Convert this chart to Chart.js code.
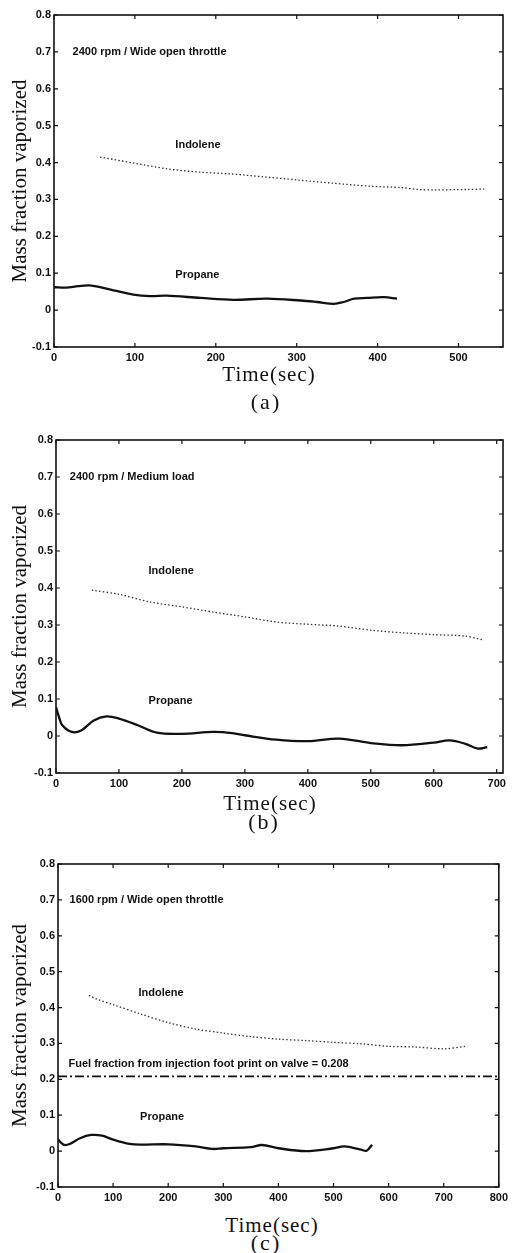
<!DOCTYPE html>
<html>
<head>
<meta charset="utf-8">
<script src="https://cdn.jsdelivr.net/npm/chart.js@4/dist/chart.umd.min.js"></script>
<style>
  html, body { margin:0; padding:0; background:#fff; }
  body { width:512px; height:1253px; position:relative; overflow:hidden; }
  .wrap { position:absolute; left:0; width:512px; }
  .lbl { position:absolute; font-family:"Liberation Serif", serif; font-size:21px; color:#111; transform:translate(-50%,-50%); white-space:nowrap; letter-spacing:1px; }
  .sub { letter-spacing:2px; font-size:22px; }
</style>
</head>
<body>
<div class="wrap" id="wa" style="top:0px;height:369px;"><canvas id="ca"></canvas></div>
<div class="wrap" id="wb" style="top:420px;height:375px;"><canvas id="cb"></canvas></div>
<div class="wrap" id="wc" style="top:840px;height:369px;"><canvas id="cc"></canvas></div>
<div class="lbl" style="left:269px;top:374px;">Time(sec)</div>
<div class="lbl sub" style="left:266px;top:402px;">(a)</div>
<div class="lbl" style="left:270px;top:803px;">Time(sec)</div>
<div class="lbl sub" style="left:264px;top:822px;">(b)</div>
<div class="lbl" style="left:272px;top:1225px;">Time(sec)</div>
<div class="lbl sub" style="left:266px;top:1243px;">(c)</div>
<script>
// ---------- data ----------
const yTicks = [-0.1, 0, 0.1, 0.2, 0.3, 0.4, 0.5, 0.6, 0.7, 0.8];
const xTicksA = [0, 100, 200, 300, 400, 500];
const xTicksB = [0, 100, 200, 300, 400, 500, 600, 700];
const xTicksC = [0, 100, 200, 300, 400, 500, 600, 700, 800];

// (a) 2400 rpm / Wide open throttle
const aIndoleneT = [57, 100, 140, 180, 220, 260, 300, 345, 390, 430, 450, 470, 510, 532];
const aIndoleneY = [0.415, 0.398, 0.383, 0.374, 0.369, 0.361, 0.353, 0.344, 0.336, 0.332, 0.327, 0.326, 0.327, 0.328];
const aPropaneT = [0, 15, 30, 44, 57, 77, 98, 119, 139, 181, 222, 263, 305, 325, 346, 358, 371, 387, 408, 424];
const aPropaneY = [0.062, 0.061, 0.065, 0.067, 0.062, 0.052, 0.042, 0.038, 0.039, 0.033, 0.028, 0.031, 0.026, 0.022, 0.017, 0.022, 0.031, 0.033, 0.035, 0.031];

// (b) 2400 rpm / Medium load
const bIndoleneT = [57, 100, 150, 200, 250, 300, 350, 400, 450, 500, 550, 600, 650, 680];
const bIndoleneY = [0.394, 0.383, 0.362, 0.349, 0.335, 0.322, 0.308, 0.302, 0.297, 0.286, 0.279, 0.274, 0.270, 0.259];
const bPropaneT = [0, 5, 10, 25, 40, 60, 80, 100, 130, 160, 200, 250, 280, 300, 350, 400, 450, 500, 550, 600, 625, 650, 670, 685];
const bPropaneY = [0.078, 0.050, 0.029, 0.011, 0.015, 0.042, 0.053, 0.047, 0.029, 0.009, 0.006, 0.011, 0.008, 0.002, -0.010, -0.014, -0.007, -0.019, -0.025, -0.018, -0.012, -0.021, -0.034, -0.030];

// (c) 1600 rpm / Wide open throttle
const cIndoleneT = [56, 70, 100, 150, 200, 250, 300, 350, 400, 450, 500, 550, 600, 650, 700, 740];
const cIndoleneY = [0.434, 0.424, 0.408, 0.382, 0.358, 0.340, 0.329, 0.319, 0.312, 0.308, 0.303, 0.299, 0.292, 0.290, 0.285, 0.292];
const cPropaneT = [0, 10, 20, 40, 60, 80, 100, 130, 150, 200, 250, 280, 300, 350, 370, 400, 450, 500, 520, 550, 560, 570];
const cPropaneY = [0.032, 0.018, 0.019, 0.036, 0.045, 0.043, 0.032, 0.020, 0.018, 0.019, 0.013, 0.006, 0.008, 0.011, 0.017, 0.008, 0.000, 0.008, 0.013, 0.004, 0.001, 0.018];
const cFootprintT = [0, 800];
const cFootprintY = [0.208, 0.208];

const xMaxA = 555, xMaxB = 710, xMaxC = 800;

// ---------- helpers ----------
const pts = (t, y) => t.map((v, i) => ({x: v, y: y[i]}));
const smallFont = {family: '"Liberation Sans", Arial, sans-serif', size: 11, weight: 'bold'};

const frameTicks = {
  id: 'frameTicks',
  afterDraw(chart, args, opts) {
    const {ctx, chartArea: a, scales: {x, y}} = chart;
    ctx.save();
    ctx.strokeStyle = '#111';
    ctx.lineWidth = 1.6;
    ctx.strokeRect(a.left, a.top, a.right - a.left, a.bottom - a.top);
    ctx.lineWidth = 1.2;
    const L = 4;
    ctx.beginPath();
    x.ticks.forEach(t => {
      const px = x.getPixelForValue(t.value);
      ctx.moveTo(px, a.bottom); ctx.lineTo(px, a.bottom - L);
      ctx.moveTo(px, a.top); ctx.lineTo(px, a.top + L);
    });
    y.ticks.forEach(t => {
      const py = y.getPixelForValue(t.value);
      ctx.moveTo(a.left, py); ctx.lineTo(a.left + L, py);
      ctx.moveTo(a.right, py); ctx.lineTo(a.right - L, py);
    });
    ctx.stroke();
    // annotations at data coordinates
    ctx.fillStyle = '#111';
    ctx.font = 'bold 11px "Liberation Sans", Arial, sans-serif';
    ctx.textBaseline = 'middle';
    ctx.textAlign = 'left';
    (opts.notes || []).forEach(n => {
      ctx.fillText(n.text, x.getPixelForValue(n.x), y.getPixelForValue(n.y));
    });
    ctx.restore();
  }
};

function makeChart(id, cfg) {
  const datasets = [
    {data: pts(cfg.indT, cfg.indY), borderColor: '#333', borderWidth: 1.3, borderDash: [1.5, 2.2], pointRadius: 0, tension: 0.3, fill: false},
    {data: pts(cfg.proT, cfg.proY), borderColor: '#111', borderWidth: 2.3, pointRadius: 0, tension: 0.35, fill: false}
  ];
  if (cfg.extraT) {
    datasets.push({data: pts(cfg.extraT, cfg.extraY), borderColor: '#111', borderWidth: 1.7, borderDash: [9, 3, 2, 3], pointRadius: 0, fill: false});
  }
  return new Chart(document.getElementById(id), {
    type: 'line',
    data: {datasets},
    plugins: [frameTicks],
    options: {
      responsive: true,
      maintainAspectRatio: false,
      animation: false,
      layout: {padding: {top: cfg.padTop, right: cfg.padRight, left: 0, bottom: 0}},
      plugins: {
        legend: {display: false},
        tooltip: {enabled: false},
        frameTicks: {notes: cfg.notes}
      },
      scales: {
        x: {
          type: 'linear', min: 0, max: cfg.xMax,
          grid: {display: false, drawTicks: false}, border: {display: false},
          afterBuildTicks: s => { s.ticks = cfg.xTicks.map(v => ({value: v})); },
          ticks: {autoSkip: false, color: '#111', font: smallFont, padding: 4, maxRotation: 0, minRotation: 0,
                  callback: v => String(v)},
          afterFit: s => { s.height = 22; }
        },
        y: {
          type: 'linear', min: -0.1, max: 0.8,
          grid: {display: false, drawTicks: false}, border: {display: false},
          afterBuildTicks: s => { s.ticks = yTicks.map(v => ({value: v})); },
          ticks: {autoSkip: false, color: '#111', font: smallFont, padding: 3,
                  callback: v => (Math.abs(v) < 1e-9 ? '0' : (Math.round(v * 10) / 10).toFixed(1))},
          title: {display: true, text: 'Mass fraction vaporized', color: '#111',
                  font: {family: '"Liberation Serif", serif', size: 21}, padding: {top: 8, bottom: 0}},
          afterFit: s => { s.width = cfg.yWidth; }
        }
      }
    }
  });
}

makeChart('ca', {
  indT: aIndoleneT, indY: aIndoleneY, proT: aPropaneT, proY: aPropaneY,
  xMax: xMaxA, xTicks: xTicksA, padTop: 15, padRight: 9, yWidth: 54,
  notes: [
    {text: '2400 rpm / Wide open throttle', x: 23, y: 0.7},
    {text: 'Indolene', x: 150, y: 0.447},
    {text: 'Propane', x: 150, y: 0.094}
  ]
});
makeChart('cb', {
  indT: bIndoleneT, indY: bIndoleneY, proT: bPropaneT, proY: bPropaneY,
  xMax: xMaxB, xTicks: xTicksB, padTop: 20, padRight: 9, yWidth: 56,
  notes: [
    {text: '2400 rpm / Medium load', x: 22, y: 0.7},
    {text: 'Indolene', x: 147, y: 0.446},
    {text: 'Propane', x: 147, y: 0.095}
  ]
});
makeChart('cc', {
  indT: cIndoleneT, indY: cIndoleneY, proT: cPropaneT, proY: cPropaneY,
  extraT: cFootprintT, extraY: cFootprintY,
  xMax: xMaxC, xTicks: xTicksC, padTop: 24, padRight: 13, yWidth: 58,
  notes: [
    {text: '1600 rpm / Wide open throttle', x: 21, y: 0.7},
    {text: 'Indolene', x: 146, y: 0.442},
    {text: 'Fuel fraction from injection foot print on valve = 0.208', x: 19, y: 0.242},
    {text: 'Propane', x: 149, y: 0.095}
  ]
});
</script>
</body>
</html>
